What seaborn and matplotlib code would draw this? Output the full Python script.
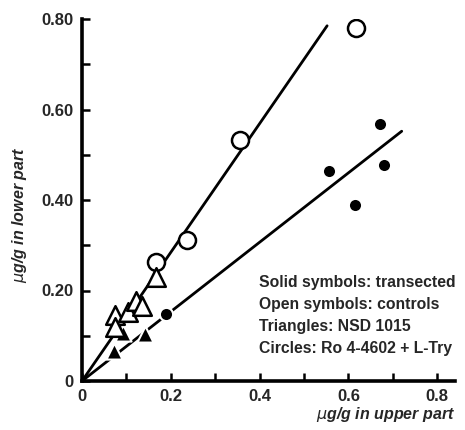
import matplotlib
matplotlib.use("Agg")
import matplotlib.pyplot as plt
import seaborn as sns
import pandas as pd

# ---- data ----
open_tri_x = [0.074, 0.074, 0.104, 0.122, 0.134, 0.167]
open_tri_y = [0.145, 0.120, 0.153, 0.177, 0.165, 0.230]
open_circ_x = [0.167, 0.237, 0.356, 0.617]
open_circ_y = [0.263, 0.311, 0.532, 0.780]
solid_tri_x = [0.073, 0.093, 0.142]
solid_tri_y = [0.066, 0.105, 0.103]
solid_circ_x = [0.190, 0.556, 0.615, 0.671, 0.680]
solid_circ_y = [0.149, 0.464, 0.389, 0.567, 0.477]
# fitted lines (start, end)
control_line_x = [0.0, 0.552]
control_line_y = [0.0, 0.785]
transected_line_x = [0.0, 0.720]
transected_line_y = [0.0, 0.552]

x_ticks = [0, 0.2, 0.4, 0.6, 0.8]
x_ticklabels = ["0", "0.2", "0.4", "0.6", "0.8"]
y_ticks = [0, 0.2, 0.4, 0.6, 0.8]
y_ticklabels = ["0", "0.20", "0.40", "0.60", "0.80"]
legend_lines = ["Solid symbols: transected",
                "Open symbols: controls",
                "Triangles: NSD 1015",
                "Circles: Ro 4-4602 + L-Try"]

sns.set_style("ticks")
plt.rcParams['font.family'] = ['Liberation Sans', 'DejaVu Sans']

W, H = 465, 430
fig = plt.figure(figsize=(W / 100, H / 100), dpi=100)
ax = fig.add_axes([82 / W, 1 - 381 / H, (455 - 82) / W, (381 - 19) / H])

df_ctl = pd.DataFrame({"x": control_line_x, "y": control_line_y})
df_trn = pd.DataFrame({"x": transected_line_x, "y": transected_line_y})
sns.lineplot(data=df_ctl, x="x", y="y", ax=ax, color="black", lw=2.0, zorder=2)
sns.lineplot(data=df_trn, x="x", y="y", ax=ax, color="black", lw=2.0, zorder=2)

sns.scatterplot(x=solid_circ_x, y=solid_circ_y, ax=ax, marker="o", s=90,
                color="black", edgecolor="white", linewidth=1.5, zorder=3)
sns.scatterplot(x=solid_tri_x, y=solid_tri_y, ax=ax, marker="^", s=135,
                color="black", edgecolor="white", linewidth=1.5, zorder=3)
sns.scatterplot(x=open_circ_x, y=open_circ_y, ax=ax, marker="o", s=150,
                facecolor="white", edgecolor="black", linewidth=1.8, zorder=4)
sns.scatterplot(x=open_tri_x, y=open_tri_y, ax=ax, marker="^", s=180,
                facecolor="white", edgecolor="black", linewidth=1.8, zorder=4)

ax.set_xlim(0, 0.84)
ax.set_ylim(0, 0.80)
ax.set_xticks(x_ticks)
ax.set_xticklabels(x_ticklabels)
ax.set_yticks(y_ticks)
ax.set_yticklabels(y_ticklabels)
ax.set_xticks([0.1, 0.3, 0.5, 0.7], minor=True)
ax.set_yticks([0.1, 0.3, 0.5, 0.7], minor=True)
ax.tick_params(which="both", direction="in", length=6, width=1.8, color="black",
               labelsize=12, pad=6)
for lab in ax.get_xticklabels() + ax.get_yticklabels():
    lab.set_fontweight("bold")

sns.despine(ax=ax)
for sp in ["left", "bottom"]:
    ax.spines[sp].set_linewidth(2.6)
    ax.spines[sp].set_color("black")

ax.set_xlabel(r"$\mu$g/g in upper part", fontsize=11.5, fontweight="bold",
              fontstyle="italic")
ax.xaxis.set_label_coords(1.0, (381 - 414) / 362)
ax.xaxis.label.set_horizontalalignment("right")
ax.xaxis.label.set_verticalalignment("center")
ax.set_ylabel(r"$\mu$g/g in lower part", fontsize=11.5, fontweight="bold",
              fontstyle="italic")
ax.yaxis.set_label_coords((29 - 82) / 373, (381 - 215) / 362)

ys = [283, 305, 327, 349]
for t, yp in zip(legend_lines, ys):
    fig.text(259 / W, 1 - yp / H, t, fontsize=11.3, fontweight="bold",
             va="center", ha="left")

fig.savefig("out.png", dpi=100, facecolor="white")
